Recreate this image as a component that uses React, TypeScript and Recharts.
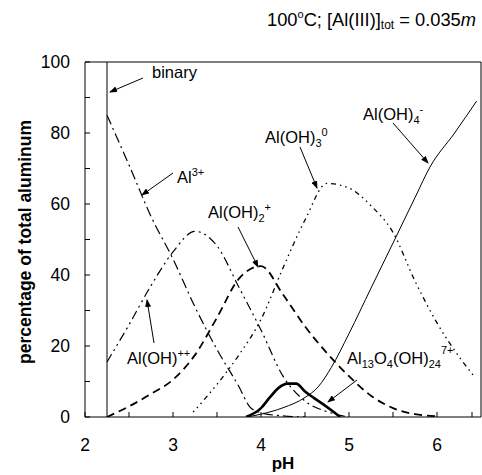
import React from "react";
import { LineChart, Line, XAxis, YAxis, ReferenceLine } from "recharts";

// Al(III) speciation at 100 C, % of total Al vs pH
const al3pH = [2.25, 2.5, 2.75, 3.0, 3.25, 3.5, 3.75, 3.875, 4.0, 4.25, 4.5];
const al3Pct = [85, 71, 56.5, 44.5, 31, 19, 8.5, 2.8, 1.2, 0.3, 0];

const alOHpH = [2.25, 2.5, 2.75, 3.0, 3.25, 3.5, 3.75, 4.0, 4.25, 4.5, 4.75, 5.0];
const alOHPct = [15.5, 26, 37, 46.5, 52.3, 48.2, 36.5, 24.5, 11.5, 4.5, 1.5, 0];

const alOH2pH = [2.25, 2.5, 2.75, 3.0, 3.25, 3.5, 3.75, 4.0, 4.25, 4.5, 4.75, 5.0, 5.25, 5.5, 5.75, 6.0];
const alOH2Pct = [0, 3, 6.5, 10.5, 17.5, 28, 39, 42.5, 34.5, 25.5, 18, 11.5, 6, 2.5, 0.8, 0.2];

const alOH3pH = [3.23, 3.5, 3.75, 4.0, 4.25, 4.5, 4.75, 5.0, 5.25, 5.5, 5.75, 6.0, 6.25, 6.42];
const alOH3Pct = [1.4, 9.2, 17.5, 27.5, 42, 55.5, 65.8, 64.5, 59.5, 52, 38.3, 26.5, 17, 11.5];

const alOH4pH = [3.84, 4.0, 4.25, 4.5, 4.65, 4.8, 5.0, 5.25, 5.5, 5.75, 5.92, 6.2, 6.45];
const alOH4Pct = [0, 0.8, 2.6, 5.5, 8.5, 14, 23.5, 36.3, 49, 61.8, 70.4, 80, 89];

const al13pH = [3.83, 4.0, 4.1, 4.2, 4.3, 4.4, 4.5, 4.6, 4.7, 4.8, 4.9];
const al13Pct = [0, 2.5, 5.5, 8.2, 9.4, 9.4, 7.2, 5.4, 3.7, 1.9, 0];

const binaryPH = 2.25;

const xTicks = [2, 2.5, 3, 3.5, 4, 4.5, 5, 5.5, 6, 6.5];
const yTicks = [0, 10, 20, 30, 40, 50, 60, 70, 80, 90, 100];

const pts = (xs: number[], ys: number[]) => xs.map((x, i) => ({ x, y: ys[i] }));

const FONT = "Arial, 'Liberation Sans', sans-serif";
const PLOT_LEFT = 85;
const PLOT_BOTTOM = 417;

const XTick = (props: any) => {
  const { x, y, payload } = props;
  return (
    <g>
      <line x1={x} x2={x} y1={PLOT_BOTTOM} y2={PLOT_BOTTOM - 5} stroke="#000" />
      {Number.isInteger(payload.value) && (
        <text x={x} y={y} textAnchor="middle" fontSize={17.5} fontFamily={FONT} fill="#000">
          {payload.value}
        </text>
      )}
    </g>
  );
};

const YTick = (props: any) => {
  const { x, y, payload } = props;
  return (
    <g>
      <line x1={PLOT_LEFT} x2={PLOT_LEFT + 5} y1={y} y2={y} stroke="#000" />
      {payload.value % 20 === 0 && (
        <text x={x} y={y + 6} textAnchor="end" fontSize={17.5} fontFamily={FONT} fill="#000">
          {payload.value}
        </text>
      )}
    </g>
  );
};

const Arrow = ({ x1, y1, x2, y2 }: { x1: number; y1: number; x2: number; y2: number }) => (
  <line x1={x1} y1={y1} x2={x2} y2={y2} stroke="#000" strokeWidth={1} markerEnd="url(#ah)" />
);

function Notes() {
  const t = { fontSize: 16.5, fontFamily: FONT, fill: "#000" };
  const s = 11;
  return (
    <svg width={482} height={475} style={{ position: "absolute", left: 0, top: 0, pointerEvents: "none" }}>
      <defs>
        <marker id="ah" markerWidth="8" markerHeight="6" refX="7" refY="3" orient="auto" markerUnits="userSpaceOnUse">
          <path d="M0,0 L8,3 L0,6 Z" fill="#000" />
        </marker>
      </defs>
      <text x={267} y={26} fontSize={18.3} fontFamily={FONT} fill="#000">
        100<tspan dy={-8} fontSize={11}>o</tspan>
        <tspan dy={8}>C; [Al(III)]</tspan>
        <tspan dy={3} fontSize={12}>tot</tspan>
        <tspan dy={-3}> = 0.035</tspan>
        <tspan fontStyle="italic">m</tspan>
      </text>

      <text x={152} y={78} {...t}>binary</text>
      <Arrow x1={143} y1={78} x2={110} y2={92} />

      <text x={177} y={183} {...t}>
        Al<tspan dy={-7} fontSize={s}>3+</tspan>
      </text>
      <Arrow x1={173} y1={173} x2={142} y2={195} />

      <text x={127} y={364} {...t}>
        Al(OH)<tspan dy={-7} fontSize={s}>++</tspan>
      </text>
      <Arrow x1={154} y1={343} x2={147} y2={300} />

      <text x={208} y={218} {...t}>
        Al(OH)<tspan dy={4} fontSize={s}>2</tspan>
        <tspan dy={-11} fontSize={s}>+</tspan>
      </text>
      <Arrow x1={238} y1={227} x2={258} y2={267} />

      <text x={265} y={143} {...t}>
        Al(OH)<tspan dy={4} fontSize={s}>3</tspan>
        <tspan dy={-11} fontSize={s}>0</tspan>
      </text>
      <Arrow x1={300} y1={147} x2={317} y2={188} />

      <text x={363} y={120} {...t}>
        Al(OH)<tspan dy={4} fontSize={s}>4</tspan>
        <tspan dy={-11} fontSize={s}>-</tspan>
      </text>
      <Arrow x1={393} y1={123} x2={428} y2={163} />

      <text x={347} y={364} {...t}>
        Al<tspan dy={4} fontSize={s}>13</tspan>
        <tspan dy={-4}>O</tspan>
        <tspan dy={4} fontSize={s}>4</tspan>
        <tspan dy={-4}>(OH)</tspan>
        <tspan dy={4} fontSize={s}>24</tspan>
        <tspan dy={-14} fontSize={s}>7+</tspan>
      </text>
      <Arrow x1={357} y1={380} x2={328} y2={402} />

      <text x={283} y={469} textAnchor="middle" fontSize={17} fontWeight="bold" fontFamily={FONT} fill="#000">
        pH
      </text>
      <text
        transform="translate(31,242) rotate(-90)"
        textAnchor="middle"
        fontSize={17.5}
        fontWeight="bold"
        fontFamily={FONT}
        fill="#000"
      >
        percentage of total aluminum
      </text>
    </svg>
  );
}

export default function App() {
  return (
    <div style={{ position: "absolute", left: 0, top: 0, width: 482, height: 475, background: "#fff" }}>
      <LineChart width={482} height={475} margin={{ top: 62, right: 1, bottom: 0, left: 0 }}>
        <XAxis
          type="number"
          dataKey="x"
          domain={[2, 6.5]}
          ticks={xTicks}
          allowDataOverflow
          height={58}
          tickSize={0}
          tickMargin={34}
          tick={<XTick />}
          axisLine={{ stroke: "#000" }}
          tickLine={false}
        />
        <YAxis
          type="number"
          domain={[0, 100]}
          ticks={yTicks}
          allowDataOverflow
          width={85}
          tickSize={0}
          tickMargin={15}
          tick={<YTick />}
          axisLine={{ stroke: "#000" }}
          tickLine={false}
        />
        <ReferenceLine y={100} stroke="#000" />
        <ReferenceLine x={6.5} stroke="#000" />
        <ReferenceLine x={binaryPH} stroke="#000" />
        <Line data={pts(al3pH, al3Pct)} dataKey="y" type="monotone" stroke="#000" strokeWidth={1.2}
          strokeDasharray="10 4 2 4" dot={false} isAnimationActive={false} />
        <Line data={pts(alOHpH, alOHPct)} dataKey="y" type="monotone" stroke="#000" strokeWidth={1.2}
          strokeDasharray="9 4 2 4 2 4" dot={false} isAnimationActive={false} />
        <Line data={pts(alOH2pH, alOH2Pct)} dataKey="y" type="monotone" stroke="#000" strokeWidth={1.8}
          strokeDasharray="8 5" dot={false} isAnimationActive={false} />
        <Line data={pts(alOH3pH, alOH3Pct)} dataKey="y" type="monotone" stroke="#000" strokeWidth={1.3}
          strokeDasharray="1.5 4 1.5 4 1.5 4 5 4" dot={false} isAnimationActive={false} />
        <Line data={pts(alOH4pH, alOH4Pct)} dataKey="y" type="monotone" stroke="#000" strokeWidth={1}
          dot={false} isAnimationActive={false} />
        <Line data={pts(al13pH, al13Pct)} dataKey="y" type="monotone" stroke="#000" strokeWidth={2.6}
          dot={false} isAnimationActive={false} />
      </LineChart>
      <Notes />
    </div>
  );
}
